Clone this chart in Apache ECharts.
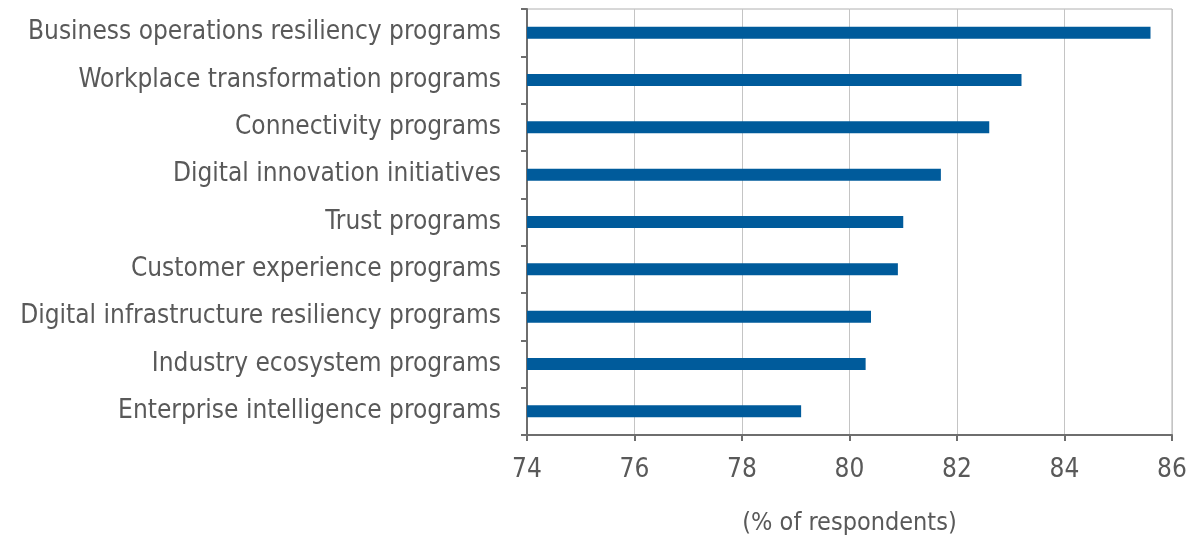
<!DOCTYPE html>
<html><head><meta charset="utf-8">
<script src="https://cdn.jsdelivr.net/npm/echarts@6/dist/echarts.min.js"></script>
<style>html,body{margin:0;padding:0;background:#fff}#c{width:1192px;height:536px}</style>
</head><body><div id="c"></div>
<script>
const categories = [
  "Business operations resiliency programs",
  "Workplace transformation programs",
  "Connectivity programs",
  "Digital innovation initiatives",
  "Trust programs",
  "Customer experience programs",
  "Digital infrastructure resiliency programs",
  "Industry ecosystem programs",
  "Enterprise intelligence programs"
];
const values = [85.6, 83.2, 82.6, 81.7, 81.0, 80.9, 80.4, 80.3, 79.1];
const xTicks = [74, 76, 78, 80, 82, 84, 86];
const xAxisTitle = "(% of respondents)";

const font = "'DejaVu Sans Condensed', 'DejaVu Sans'";
const chart = echarts.init(document.getElementById('c'), null, {renderer: 'canvas'});
chart.setOption({
  animation: false,
  grid: {left: 527, right: 20, top: 9, bottom: 101, show: true, borderColor: '#b0b0b0', borderWidth: 1,
         containLabel: false, outerBoundsMode: 'none'},
  xAxis: {
    type: 'value', min: xTicks[0], max: xTicks[xTicks.length - 1], interval: 2,
    name: xAxisTitle, nameLocation: 'middle', nameGap: 76,
    nameTextStyle: {fontFamily: font, fontSize: 25, color: '#595959'},
    axisLine: {show: true, lineStyle: {color: '#6e6e6e', width: 2}},
    axisTick: {show: true, length: 6, lineStyle: {color: '#6e6e6e', width: 2}},
    axisLabel: {fontFamily: font, fontSize: 26, color: '#595959', margin: 22},
    splitLine: {show: true, lineStyle: {color: '#c4c4c4', width: 1}}
  },
  yAxis: {
    type: 'category', data: categories, inverse: true,
    axisLine: {show: true, lineStyle: {color: '#6e6e6e', width: 2}},
    axisTick: {show: true, length: 6, inside: false, lineStyle: {color: '#6e6e6e', width: 2}},
    axisLabel: {fontFamily: font, fontSize: 26, color: '#595959', margin: 26},
    splitLine: {show: false}
  },
  series: [{
    type: 'bar', data: values, barWidth: 12,
    itemStyle: {color: '#005b9b'}
  }]
});
</script></body></html>
